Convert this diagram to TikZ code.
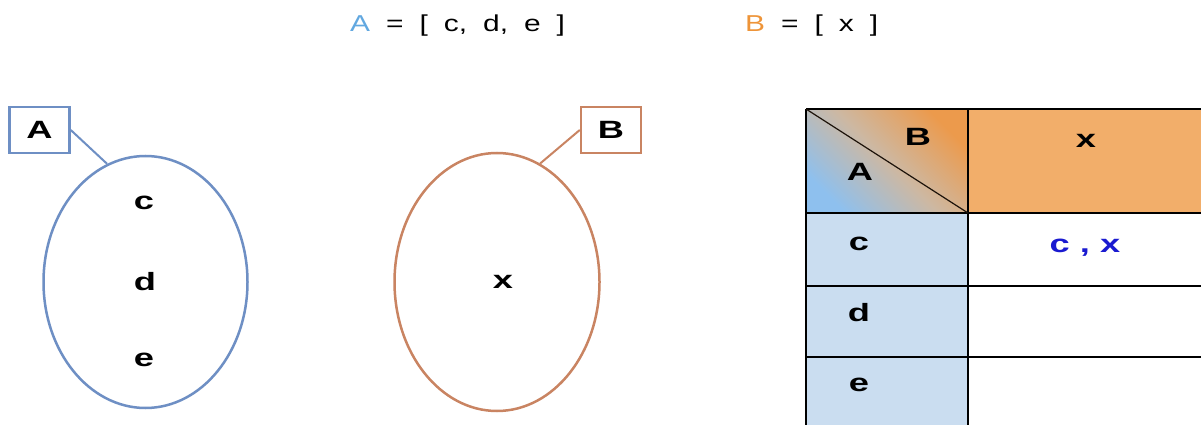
\documentclass[tikz,border=0pt]{standalone}
\usepackage{fontspec}
\setmainfont{Liberation Sans}
\newfontfamily\titlefont[FakeStretch=1.3]{Liberation Sans}
\newfontfamily\letterfont[FakeStretch=1.45]{Liberation Sans}
\usetikzlibrary{shapes.geometric}
\definecolor{ablue}{HTML}{6E8FC4}
\definecolor{bbrown}{HTML}{C98462}
\definecolor{titleblue}{HTML}{62A8E0}
\definecolor{titleorange}{HTML}{EE9438}
\definecolor{hdrorange}{HTML}{F2AE6A}
\definecolor{colblue}{HTML}{CADDF0}
\definecolor{cornerblue}{HTML}{8EC0EE}
\definecolor{cornermid}{HTML}{CDB8A2}
\definecolor{cornerorange}{HTML}{EC9A4C}
\definecolor{cellblue}{HTML}{1A1AD0}
\newcommand{\widesp}{\spaceskip=16pt\relax}
\begin{document}
\begin{tikzpicture}[x=1pt,y=-1pt,
  lbl/.style={font=\letterfont\bfseries\fontsize{25}{25}\selectfont, inner sep=0pt},
  ttl/.style={font=\titlefont\fontsize{23}{26}\selectfont, inner sep=0pt, anchor=base west},
  setA/.style={ellipse, draw=ablue, line width=2.5pt, minimum width=204pt, minimum height=252pt, inner sep=0pt},
  setB/.style={ellipse, draw=bbrown, line width=2.5pt, minimum width=205pt, minimum height=258pt, inner sep=0pt},
  tagbox/.style={rectangle, line width=2.5pt, minimum width=60pt, minimum height=46pt, inner sep=0pt, font=\letterfont\bfseries\fontsize{25}{25}\selectfont},
  grid/.style={line width=1.6pt, black}]
\useasboundingbox (0,0) rectangle (1201,425);
\clip (0,0) rectangle (1201,425);
\fill[white] (0,0) rectangle (1201,425);

% titles
\node[ttl] (titleA) at (350,32) {\widesp{\color{titleblue}A} = [ c, d, e ]};
\node[ttl] (titleB) at (745,32) {\widesp{\color{titleorange}B} = [ x ]};

% set A
\node[setA] (ellA) at (145.5,282) {};
\node[tagbox, draw=ablue] (boxA) at (39.5,130) {A};
\draw[ablue, line width=2pt] (boxA.east) -- (ellA.108);
\node[lbl] (aC) at (144,203) {c};
\node[lbl] (aD) at (145,282) {d};
\node[lbl] (aE) at (144,360) {e};

% set B
\node[setB] (ellB) at (497,282) {};
\node[tagbox, draw=bbrown] (boxB) at (611,130) {B};
\draw[bbrown, line width=2pt] (boxB.west) -- (ellB.70);
\node[lbl] (bX) at (503,282) {x};

% table
\fill[colblue] (806,213) rectangle (968,440);
\fill[hdrorange] (968,109) rectangle (1215,213);
\shade[top color=cornerorange, bottom color=cornerblue, middle color=cornermid, shading angle=-45] (806,109) rectangle (968,213);
\draw[grid] (806,109) -- (1215,109);
\draw[grid] (806,213) -- (1215,213);
\draw[grid] (806,286) -- (1215,286);
\draw[grid, line width=1.2pt] (806,357) -- (1215,357);
\draw[grid] (806,109) -- (806,440);
\draw[grid] (968,109) -- (968,440);
\draw[line width=1.2pt, black!85!brown] (806,109) -- (968,213);

\node[lbl] (tB) at (918,137) {B};
\node[lbl] (tA) at (860,172) {A};
\node[lbl] (hX) at (1086,141) {x};
\node[lbl] (rC) at (859,244) {c};
\node[lbl] (rD) at (859,313) {d};
\node[lbl] (rE) at (859,385) {e};
\node[lbl, text=cellblue] (cCX) at (1085,248) {c , x};
\end{tikzpicture}
\end{document}
